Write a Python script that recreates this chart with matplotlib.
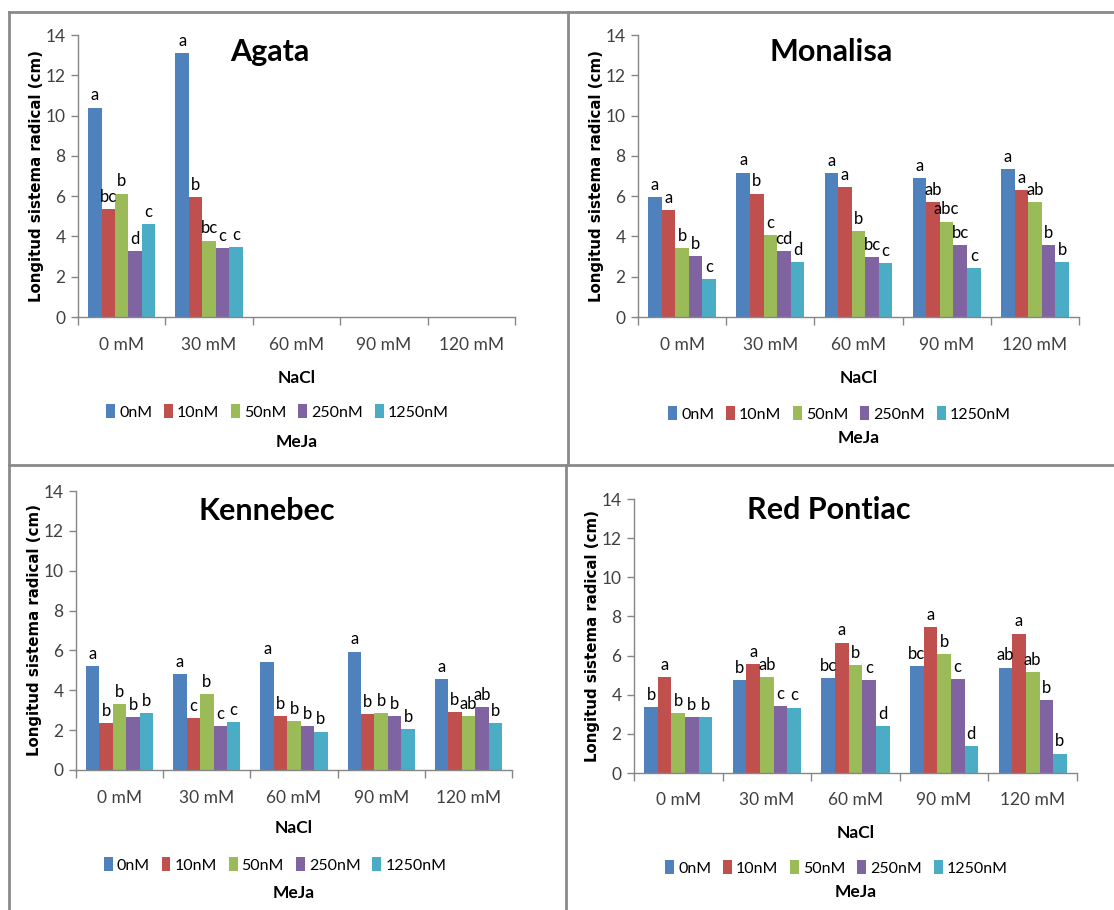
import matplotlib
matplotlib.use("Agg")
import matplotlib.pyplot as plt
import numpy as np
from matplotlib.patches import Patch
from matplotlib.lines import Line2D

SANS = ["Lato", "DejaVu Sans"]

nacl = ["0 mM", "30 mM", "60 mM", "90 mM", "120 mM"]
meja = ["0nM", "10nM", "50nM", "250nM", "1250nM"]
colors = ["#4F81BD", "#C0504D", "#9BBB59", "#8064A2", "#4BACC6"]

# Root length (cm) per NaCl level (rows) and MeJa dose (columns)
agata = [
    [10.4, 5.36, 6.13, 3.28, 4.6],
    [13.09, 5.94, 3.79, 3.44, 3.46],
]
agata_letters = [
    ["a", "bc", "b", "d", "c"],
    ["a", "b", "bc", "c", "c"],
]

monalisa = [
    [5.95, 5.29, 3.44, 3.01, 1.9],
    [7.17, 6.13, 4.08, 3.26, 2.74],
    [7.14, 6.43, 4.25, 2.96, 2.68],
    [6.89, 5.69, 4.74, 3.59, 2.43],
    [7.36, 6.3, 5.69, 3.59, 2.74],
]
monalisa_letters = [
    ["a", "a", "b", "b", "c"],
    ["a", "b", "c", "cd", "d"],
    ["a", "a", "b", "bc", "c"],
    ["a", "ab", "abc", "bc", "c"],
    ["a", "a", "ab", "b", "b"],
]

kennebec = [
    [5.22, 2.34, 3.29, 2.64, 2.84],
    [4.8, 2.59, 3.8, 2.19, 2.39],
    [5.44, 2.71, 2.46, 2.21, 1.93],
    [5.94, 2.79, 2.86, 2.69, 2.07],
    [4.58, 2.89, 2.69, 3.15, 2.34],
]
kennebec_letters = [
    ["a", "b", "b", "b", "b"],
    ["a", "c", "b", "c", "c"],
    ["a", "b", "b", "b", "b"],
    ["a", "b", "b", "b", "b"],
    ["a", "b", "ab", "ab", "b"],
]

red_pontiac = [
    [3.37, 4.88, 3.07, 2.87, 2.85],
    [4.74, 5.56, 4.88, 3.43, 3.34],
    [4.85, 6.66, 5.53, 4.74, 2.39],
    [5.46, 7.44, 6.06, 4.81, 1.37],
    [5.39, 7.12, 5.14, 3.71, 0.99],
]
red_pontiac_letters = [
    ["b", "a", "b", "b", "b"],
    ["b", "a", "ab", "c", "c"],
    ["bc", "a", "b", "c", "d"],
    ["bc", "a", "b", "c", "d"],
    ["ab", "a", "ab", "b", "b"],
]

W, H = 1114, 910
fig = plt.figure(figsize=(W / 100, H / 100), dpi=100)
fig.patch.set_facecolor("white")


def fx(px):
    return px / W


def fy(py):
    return 1 - py / H


# panel frame lines
frame = "#8a8a8a"
for (x0, y0, x1, y1) in [
    (9, 11.5, W, 11.5),
    (9, 11.5, 9, H),
    (567.5, 11.5, 567.5, 465),
    (566, 465, 566, H),
    (9, 465, W, 465),
]:
    fig.add_artist(Line2D([fx(x0), fx(x1)], [fy(y0), fy(y1)],
                          color=frame, lw=2.0, transform=fig.transFigure))

panels = [
    # title, values, letters, axes box (left, right, top, bottom), title y,
    # tick label y, NaCl y, legend y, MeJa y
    ("Agata", agata, agata_letters, (78, 515, 35, 317), 52, 345, 378, 412, 442),
    ("Monalisa", monalisa, monalisa_letters, (638, 1079, 35, 317), 52, 345, 378, 414, 438),
    ("Kennebec", kennebec, kennebec_letters, (76, 512, 491, 770), 511, 798, 828, 865, 893),
    ("Red Pontiac", red_pontiac, red_pontiac_letters, (634, 1077, 499, 773), 510, 800, 833, 868, 892),
]

axis_gray = "#868686"
ncat = len(nacl)
nser = len(meja)
gap = 1.5
bw = 1.0 / (nser + gap)

for title, vals, letters, box, ty, tly, naly, legy, mey in panels:
    l, r, t, b = box
    ax = fig.add_axes([fx(l), fy(b), fx(r) - fx(l), fy(t) - fy(b)])
    ax.set_xlim(0, ncat)
    ax.set_ylim(0, 14)
    for gi, row in enumerate(vals):
        for si, v in enumerate(row):
            x = gi + (gap / 2) * bw + si * bw
            ax.bar(x, v, width=bw, align="edge", color=colors[si], lw=0)
            ax.annotate(letters[gi][si], (x + bw / 2, v), xytext=(0, 3),
                        textcoords="offset points", ha="center", va="bottom",
                        fontsize=12, family=SANS, color="black")
    for s in ["top", "right"]:
        ax.spines[s].set_visible(False)
    for s in ["left", "bottom"]:
        ax.spines[s].set_color(axis_gray)
        ax.spines[s].set_linewidth(1.0)
    ax.set_yticks(np.arange(0, 15, 2))
    ax.set_xticks(np.arange(0, ncat + 1))
    ax.set_xticklabels([])
    ax.set_xticks(np.arange(ncat) + 0.5, minor=True)
    ax.set_xticklabels(nacl, minor=True)
    ax.tick_params(axis="x", which="major", length=6, color=axis_gray, width=1)
    ax.tick_params(axis="x", which="minor", length=0)
    ax.tick_params(axis="y", length=5, color=axis_gray, width=1, pad=4)
    for lab in ax.get_yticklabels():
        lab.set_fontsize(12.5)
        lab.set_family(SANS)
        lab.set_color("#404040")
    for lab in ax.get_xticklabels(minor=True):
        lab.set_fontsize(12.5)
        lab.set_family(SANS)
        lab.set_color("#404040")
    ax.tick_params(axis="x", which="minor", pad=(tly - b) * 0.72 - 6)
    ax.set_ylabel("Longitud sistema radical (cm)", fontsize=10.8,
                  fontweight="bold", family="DejaVu Sans", labelpad=1)
    cx = (l + r) / 2
    fig.text(fx(cx - 27), fy(ty), title, fontsize=22, fontweight="bold",
             family=SANS, ha="center", va="center")
    fig.text(fx(cx), fy(naly), "NaCl", fontsize=12.5, fontweight="bold",
             family=SANS, ha="center", va="center")
    fig.text(fx(cx), fy(mey), "MeJa", fontsize=12.5, fontweight="bold",
             family=SANS, ha="center", va="center")
    handles = [Patch(facecolor=c, edgecolor="none") for c in colors]
    fig.legend(handles, meja, loc="center", bbox_to_anchor=(fx(cx - 19), fy(legy)),
               ncol=5, frameon=False, handlelength=0.55, handleheight=0.95,
               handletextpad=0.25, columnspacing=0.75, borderpad=0,
               prop={"family": SANS, "size": 11.5})

fig.savefig("out.png", dpi=100, facecolor="white")
